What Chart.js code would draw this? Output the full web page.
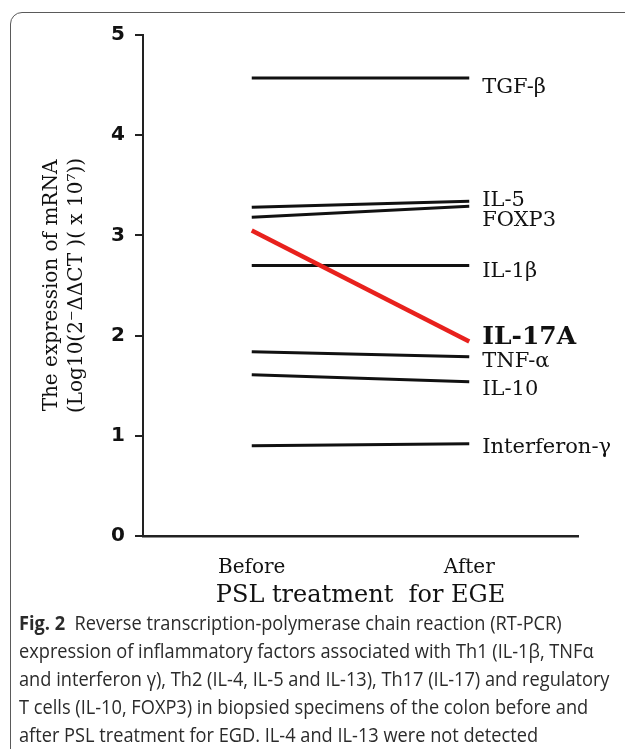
<!DOCTYPE html>
<html>
<head>
<meta charset="utf-8">
<script src="https://cdn.jsdelivr.net/npm/chart.js@4.4.1/dist/chart.umd.min.js"></script>
<style>
  html, body { margin: 0; padding: 0; background: #fff; width: 625px; height: 749px; overflow: hidden; }
  #frame { position: absolute; left: 10px; top: 12px; width: 700px; height: 800px;
           border: 1.5px solid #5a5a5a; border-radius: 12px; }
  #wrap { position: absolute; left: 0; top: 0; width: 625px; height: 610px; }
  #caption { position: absolute; left: 19px; top: 609px; font-family: "Open Sans", sans-serif;
             font-size: 20px; color: #2b2b2b; }
  #caption div { height: 28px; line-height: 28px; white-space: nowrap;
                 transform: scaleX(0.91); transform-origin: 0 50%; }
</style>
</head>
<body>
<div id="frame"></div>
<div id="wrap"><canvas id="myChart" width="625" height="610"></canvas></div>
<div id="caption">
  <div><b>Fig. 2</b>&nbsp; Reverse transcription-polymerase chain reaction (RT-PCR)</div>
  <div>expression of inflammatory factors associated with Th1 (IL-1β, TNFα</div>
  <div>and interferon γ), Th2 (IL-4, IL-5 and IL-13), Th17 (IL-17) and regulatory</div>
  <div>T cells (IL-10, FOXP3) in biopsied specimens of the colon before and</div>
  <div>after PSL treatment for EGD. IL-4 and IL-13 were not detected</div>
</div>
<script>
// data
const stages = ["Before", "After"];
const factors = ["TGF-β", "IL-5", "FOXP3", "IL-1β", "IL-17A", "TNF-α", "IL-10", "Interferon-γ"];
const tgfB = [4.57, 4.57];
const il5 = [3.28, 3.34];
const foxp3 = [3.18, 3.29];
const il1b = [2.70, 2.70];
const il17a = [3.05, 1.94];
const tnfA = [1.84, 1.79];
const il10 = [1.61, 1.54];
const ifnG = [0.90, 0.92];
const yTicks = [0, 1, 2, 3, 4, 5];

const seriesValues = [tgfB, il5, foxp3, il1b, il17a, tnfA, il10, ifnG];
// vertical nudge of each label (px) relative to the line end
const labelShift = [9, -1, 14, 6, -4, 5, 8, 4];

const datasets = factors.map((name, i) => {
    const hot = name === "IL-17A";
    return {
        label: name,
        data: seriesValues[i],
        borderColor: hot ? "#e8211d" : "#111",
        borderWidth: hot ? 4.5 : 3,
        pointRadius: 0,
        fill: false,
        tension: 0,
        order: hot ? 0 : 1,
        labelShift: labelShift[i],
        labelBold: hot
    };
});

const endLabels = {
    id: "endLabels",
    afterDatasetsDraw(chart) {
        const ctx = chart.ctx;
        ctx.save();
        ctx.fillStyle = "#111";
        ctx.textAlign = "left";
        ctx.textBaseline = "middle";
        chart.data.datasets.forEach((ds, i) => {
            const pt = chart.getDatasetMeta(i).data[1];
            ctx.font = ds.labelBold ? "bold 25px 'DejaVu Serif'" : "21px 'DejaVu Serif'";
            ctx.fillText(ds.label, pt.x + 13, pt.y + ds.labelShift);
        });
        ctx.restore();
    }
};

const ctx = document.getElementById("myChart").getContext("2d");
new Chart(ctx, {
    type: "line",
    data: { labels: stages, datasets: datasets },
    options: {
        responsive: false,
        animation: false,
        layout: { padding: { top: 35, right: 47, left: 0, bottom: 0 } },
        plugins: { legend: { display: false }, tooltip: { enabled: false } },
        scales: {
            x: {
                offset: true,
                grid: { display: false },
                border: { display: true, color: "#222", width: 2.5 },
                ticks: { color: "#111", padding: 12, font: { family: "DejaVu Serif", size: 20 } },
                title: {
                    display: true, text: "PSL treatment  for EGE", color: "#111",
                    padding: { top: 0, bottom: 0 },
                    font: { family: "DejaVu Serif", size: 24 }
                },
                afterFit(scale) { scale.height = 74; }
            },
            y: {
                min: 0, max: 5,
                afterBuildTicks(scale) { scale.ticks = yTicks.map(v => ({ value: v })); },
                grid: { drawOnChartArea: false, drawTicks: true, tickLength: 8, color: "#222", lineWidth: 2 },
                border: { display: true, color: "#222", width: 2 },
                ticks: { color: "#111", padding: 10, font: { family: "DejaVu Sans", weight: "bold", size: 20 } },
                title: {
                    display: true,
                    text: ["The expression of mRNA", "(Log10(2⁻ΔΔCT )( x 10⁷))"],
                    color: "#111",
                    padding: { top: 39, bottom: 0 },
                    font: { family: "DejaVu Serif", size: 20, lineHeight: "25px" }
                },
                afterFit(scale) { scale.width = 143; }
            }
        }
    },
    plugins: [endLabels]
});
</script>
</body>
</html>
